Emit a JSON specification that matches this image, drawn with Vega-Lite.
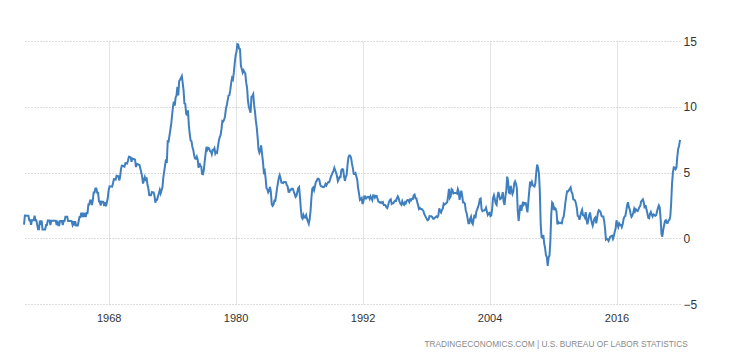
{"$schema":"https://vega.github.io/schema/vega-lite/v6.json","width":656,"height":263,"autosize":{"type":"none"},"padding":{"left":24,"top":41,"right":72,"bottom":59},"background":"white","config":{"view":{"stroke":null},"font":"Liberation Sans"},
"title":{"text":"TRADINGECONOMICS.COM  |  U.S.  BUREAU  OF  LABOR  STATISTICS","orient":"bottom","anchor":"end","fontSize":8.3,"font":"Liberation Sans","fontWeight":"normal","color":"#8a8a8a","offset":17,"dx":-9},
"data":{"values":[
{"d":"1960-01","v":1.03},{"d":"1960-02","v":1.73},{"d":"1960-03","v":1.73},{"d":"1960-04","v":1.72},{"d":"1960-05","v":1.72},{"d":"1960-06","v":1.72},{"d":"1960-07","v":1.37},{"d":"1960-08","v":1.37},{"d":"1960-09","v":1.02},{"d":"1960-10","v":1.36},{"d":"1960-11","v":1.36},{"d":"1960-12","v":1.36},
{"d":"1961-01","v":1.71},{"d":"1961-02","v":1.36},{"d":"1961-03","v":1.36},{"d":"1961-04","v":1.02},{"d":"1961-05","v":0.68},{"d":"1961-06","v":0.68},{"d":"1961-07","v":1.35},{"d":"1961-08","v":1.02},{"d":"1961-09","v":1.35},{"d":"1961-10","v":0.67},{"d":"1961-11","v":0.67},{"d":"1961-12","v":0.67},
{"d":"1962-01","v":0.67},{"d":"1962-02","v":1.01},{"d":"1962-03","v":1.01},{"d":"1962-04","v":1.35},{"d":"1962-05","v":1.35},{"d":"1962-06","v":1.35},{"d":"1962-07","v":1.01},{"d":"1962-08","v":1.34},{"d":"1962-09","v":1.34},{"d":"1962-10","v":1.34},{"d":"1962-11","v":1.34},{"d":"1962-12","v":1.34},
{"d":"1963-01","v":1.33},{"d":"1963-02","v":1.0},{"d":"1963-03","v":1.33},{"d":"1963-04","v":0.99},{"d":"1963-05","v":0.99},{"d":"1963-06","v":1.32},{"d":"1963-07","v":1.32},{"d":"1963-08","v":1.32},{"d":"1963-09","v":1.0},{"d":"1963-10","v":1.32},{"d":"1963-11","v":1.32},{"d":"1963-12","v":1.64},
{"d":"1964-01","v":1.64},{"d":"1964-02","v":1.64},{"d":"1964-03","v":1.31},{"d":"1964-04","v":1.31},{"d":"1964-05","v":1.31},{"d":"1964-06","v":1.31},{"d":"1964-07","v":1.3},{"d":"1964-08","v":1.04},{"d":"1964-09","v":1.3},{"d":"1964-10","v":0.97},{"d":"1964-11","v":1.29},{"d":"1964-12","v":0.97},
{"d":"1965-01","v":0.97},{"d":"1965-02","v":0.97},{"d":"1965-03","v":1.29},{"d":"1965-04","v":1.62},{"d":"1965-05","v":1.62},{"d":"1965-06","v":1.94},{"d":"1965-07","v":1.62},{"d":"1965-08","v":1.94},{"d":"1965-09","v":1.62},{"d":"1965-10","v":1.93},{"d":"1965-11","v":1.61},{"d":"1965-12","v":1.92},
{"d":"1966-01","v":1.92},{"d":"1966-02","v":2.56},{"d":"1966-03","v":2.56},{"d":"1966-04","v":2.87},{"d":"1966-05","v":2.87},{"d":"1966-06","v":2.53},{"d":"1966-07","v":2.85},{"d":"1966-08","v":3.48},{"d":"1966-09","v":3.48},{"d":"1966-10","v":3.79},{"d":"1966-11","v":3.79},{"d":"1966-12","v":3.46},
{"d":"1967-01","v":3.46},{"d":"1967-02","v":2.81},{"d":"1967-03","v":2.8},{"d":"1967-04","v":2.48},{"d":"1967-05","v":2.79},{"d":"1967-06","v":2.78},{"d":"1967-07","v":2.77},{"d":"1967-08","v":2.45},{"d":"1967-09","v":2.75},{"d":"1967-10","v":2.43},{"d":"1967-11","v":2.74},{"d":"1967-12","v":3.04},
{"d":"1968-01","v":3.65},{"d":"1968-02","v":3.95},{"d":"1968-03","v":3.94},{"d":"1968-04","v":3.93},{"d":"1968-05","v":3.92},{"d":"1968-06","v":4.2},{"d":"1968-07","v":4.49},{"d":"1968-08","v":4.48},{"d":"1968-09","v":4.46},{"d":"1968-10","v":4.75},{"d":"1968-11","v":4.73},{"d":"1968-12","v":4.72},
{"d":"1969-01","v":4.4},{"d":"1969-02","v":4.68},{"d":"1969-03","v":5.25},{"d":"1969-04","v":5.52},{"d":"1969-05","v":5.51},{"d":"1969-06","v":5.48},{"d":"1969-07","v":5.44},{"d":"1969-08","v":5.71},{"d":"1969-09","v":5.7},{"d":"1969-10","v":5.68},{"d":"1969-11","v":5.93},{"d":"1969-12","v":6.2},
{"d":"1970-01","v":6.18},{"d":"1970-02","v":6.15},{"d":"1970-03","v":5.82},{"d":"1970-04","v":6.06},{"d":"1970-05","v":6.04},{"d":"1970-06","v":6.01},{"d":"1970-07","v":5.98},{"d":"1970-08","v":5.41},{"d":"1970-09","v":5.66},{"d":"1970-10","v":5.63},{"d":"1970-11","v":5.6},{"d":"1970-12","v":5.57},
{"d":"1971-01","v":5.29},{"d":"1971-02","v":5.0},{"d":"1971-03","v":4.71},{"d":"1971-04","v":4.16},{"d":"1971-05","v":4.4},{"d":"1971-06","v":4.64},{"d":"1971-07","v":4.36},{"d":"1971-08","v":4.62},{"d":"1971-09","v":4.08},{"d":"1971-10","v":3.81},{"d":"1971-11","v":3.28},{"d":"1971-12","v":3.27},
{"d":"1972-01","v":3.27},{"d":"1972-02","v":3.51},{"d":"1972-03","v":3.5},{"d":"1972-04","v":3.49},{"d":"1972-05","v":3.23},{"d":"1972-06","v":2.71},{"d":"1972-07","v":2.95},{"d":"1972-08","v":2.94},{"d":"1972-09","v":3.19},{"d":"1972-10","v":3.42},{"d":"1972-11","v":3.67},{"d":"1972-12","v":3.41},
{"d":"1973-01","v":3.65},{"d":"1973-02","v":3.87},{"d":"1973-03","v":4.59},{"d":"1973-04","v":5.06},{"d":"1973-05","v":5.53},{"d":"1973-06","v":5.99},{"d":"1973-07","v":5.73},{"d":"1973-08","v":7.38},{"d":"1973-09","v":7.36},{"d":"1973-10","v":7.8},{"d":"1973-11","v":8.25},{"d":"1973-12","v":8.71},
{"d":"1974-01","v":9.39},{"d":"1974-02","v":10.02},{"d":"1974-03","v":10.39},{"d":"1974-04","v":10.09},{"d":"1974-05","v":10.71},{"d":"1974-06","v":10.86},{"d":"1974-07","v":11.51},{"d":"1974-08","v":10.86},{"d":"1974-09","v":11.95},{"d":"1974-10","v":12.06},{"d":"1974-11","v":12.2},{"d":"1974-12","v":12.34},
{"d":"1975-01","v":11.8},{"d":"1975-02","v":11.23},{"d":"1975-03","v":10.25},{"d":"1975-04","v":10.21},{"d":"1975-05","v":9.47},{"d":"1975-06","v":9.39},{"d":"1975-07","v":9.72},{"d":"1975-08","v":8.6},{"d":"1975-09","v":7.91},{"d":"1975-10","v":7.44},{"d":"1975-11","v":7.38},{"d":"1975-12","v":6.94},
{"d":"1976-01","v":6.72},{"d":"1976-02","v":6.29},{"d":"1976-03","v":6.07},{"d":"1976-04","v":6.05},{"d":"1976-05","v":6.2},{"d":"1976-06","v":5.97},{"d":"1976-07","v":5.35},{"d":"1976-08","v":5.71},{"d":"1976-09","v":5.49},{"d":"1976-10","v":5.46},{"d":"1976-11","v":4.88},{"d":"1976-12","v":4.86},
{"d":"1977-01","v":5.22},{"d":"1977-02","v":5.91},{"d":"1977-03","v":6.44},{"d":"1977-04","v":6.95},{"d":"1977-05","v":6.73},{"d":"1977-06","v":6.87},{"d":"1977-07","v":6.83},{"d":"1977-08","v":6.62},{"d":"1977-09","v":6.6},{"d":"1977-10","v":6.39},{"d":"1977-11","v":6.72},{"d":"1977-12","v":6.7},
{"d":"1978-01","v":6.84},{"d":"1978-02","v":6.43},{"d":"1978-03","v":6.55},{"d":"1978-04","v":6.5},{"d":"1978-05","v":6.97},{"d":"1978-06","v":7.41},{"d":"1978-07","v":7.7},{"d":"1978-08","v":7.84},{"d":"1978-09","v":8.31},{"d":"1978-10","v":8.93},{"d":"1978-11","v":8.89},{"d":"1978-12","v":9.02},
{"d":"1979-01","v":9.28},{"d":"1979-02","v":9.86},{"d":"1979-03","v":10.09},{"d":"1979-04","v":10.49},{"d":"1979-05","v":10.85},{"d":"1979-06","v":10.89},{"d":"1979-07","v":11.26},{"d":"1979-08","v":11.82},{"d":"1979-09","v":12.18},{"d":"1979-10","v":12.07},{"d":"1979-11","v":12.61},{"d":"1979-12","v":13.29},
{"d":"1980-01","v":13.91},{"d":"1980-02","v":14.18},{"d":"1980-03","v":14.76},{"d":"1980-04","v":14.73},{"d":"1980-05","v":14.41},{"d":"1980-06","v":14.38},{"d":"1980-07","v":13.13},{"d":"1980-08","v":12.87},{"d":"1980-09","v":12.6},{"d":"1980-10","v":12.77},{"d":"1980-11","v":12.65},{"d":"1980-12","v":12.52},
{"d":"1981-01","v":11.83},{"d":"1981-02","v":11.41},{"d":"1981-03","v":10.49},{"d":"1981-04","v":10.0},{"d":"1981-05","v":9.78},{"d":"1981-06","v":9.55},{"d":"1981-07","v":10.76},{"d":"1981-08","v":10.8},{"d":"1981-09","v":10.95},{"d":"1981-10","v":10.14},{"d":"1981-11","v":9.59},{"d":"1981-12","v":8.92},
{"d":"1982-01","v":8.39},{"d":"1982-02","v":7.62},{"d":"1982-03","v":6.78},{"d":"1982-04","v":6.51},{"d":"1982-05","v":6.68},{"d":"1982-06","v":7.06},{"d":"1982-07","v":6.44},{"d":"1982-08","v":5.85},{"d":"1982-09","v":5.04},{"d":"1982-10","v":5.14},{"d":"1982-11","v":4.59},{"d":"1982-12","v":3.83},
{"d":"1983-01","v":3.71},{"d":"1983-02","v":3.49},{"d":"1983-03","v":3.6},{"d":"1983-04","v":3.9},{"d":"1983-05","v":3.55},{"d":"1983-06","v":2.58},{"d":"1983-07","v":2.46},{"d":"1983-08","v":2.56},{"d":"1983-09","v":2.86},{"d":"1983-10","v":2.85},{"d":"1983-11","v":3.27},{"d":"1983-12","v":3.79},
{"d":"1984-01","v":4.19},{"d":"1984-02","v":4.6},{"d":"1984-03","v":4.8},{"d":"1984-04","v":4.56},{"d":"1984-05","v":4.23},{"d":"1984-06","v":4.22},{"d":"1984-07","v":4.2},{"d":"1984-08","v":4.29},{"d":"1984-09","v":4.27},{"d":"1984-10","v":4.26},{"d":"1984-11","v":4.05},{"d":"1984-12","v":3.95},
{"d":"1985-01","v":3.53},{"d":"1985-02","v":3.52},{"d":"1985-03","v":3.7},{"d":"1985-04","v":3.69},{"d":"1985-05","v":3.77},{"d":"1985-06","v":3.76},{"d":"1985-07","v":3.55},{"d":"1985-08","v":3.35},{"d":"1985-09","v":3.14},{"d":"1985-10","v":3.23},{"d":"1985-11","v":3.51},{"d":"1985-12","v":3.8},
{"d":"1986-01","v":3.89},{"d":"1986-02","v":3.11},{"d":"1986-03","v":2.26},{"d":"1986-04","v":1.59},{"d":"1986-05","v":1.49},{"d":"1986-06","v":1.77},{"d":"1986-07","v":1.58},{"d":"1986-08","v":1.57},{"d":"1986-09","v":1.75},{"d":"1986-10","v":1.47},{"d":"1986-11","v":1.28},{"d":"1986-12","v":1.1},
{"d":"1987-01","v":1.46},{"d":"1987-02","v":2.1},{"d":"1987-03","v":3.03},{"d":"1987-04","v":3.78},{"d":"1987-05","v":3.86},{"d":"1987-06","v":3.65},{"d":"1987-07","v":3.93},{"d":"1987-08","v":4.28},{"d":"1987-09","v":4.36},{"d":"1987-10","v":4.53},{"d":"1987-11","v":4.53},{"d":"1987-12","v":4.43},
{"d":"1988-01","v":4.05},{"d":"1988-02","v":3.94},{"d":"1988-03","v":3.93},{"d":"1988-04","v":3.9},{"d":"1988-05","v":3.89},{"d":"1988-06","v":3.96},{"d":"1988-07","v":4.13},{"d":"1988-08","v":4.02},{"d":"1988-09","v":4.17},{"d":"1988-10","v":4.25},{"d":"1988-11","v":4.25},{"d":"1988-12","v":4.42},
{"d":"1989-01","v":4.67},{"d":"1989-02","v":4.83},{"d":"1989-03","v":4.98},{"d":"1989-04","v":5.12},{"d":"1989-05","v":5.36},{"d":"1989-06","v":5.17},{"d":"1989-07","v":4.98},{"d":"1989-08","v":4.71},{"d":"1989-09","v":4.34},{"d":"1989-10","v":4.49},{"d":"1989-11","v":4.66},{"d":"1989-12","v":4.65},
{"d":"1990-01","v":5.2},{"d":"1990-02","v":5.26},{"d":"1990-03","v":5.23},{"d":"1990-04","v":4.71},{"d":"1990-05","v":4.36},{"d":"1990-06","v":4.67},{"d":"1990-07","v":4.82},{"d":"1990-08","v":5.62},{"d":"1990-09","v":6.16},{"d":"1990-10","v":6.29},{"d":"1990-11","v":6.27},{"d":"1990-12","v":6.11},
{"d":"1991-01","v":5.65},{"d":"1991-02","v":5.31},{"d":"1991-03","v":4.9},{"d":"1991-04","v":4.89},{"d":"1991-05","v":4.95},{"d":"1991-06","v":4.7},{"d":"1991-07","v":4.45},{"d":"1991-08","v":3.8},{"d":"1991-09","v":3.39},{"d":"1991-10","v":2.92},{"d":"1991-11","v":2.99},{"d":"1991-12","v":3.06},
{"d":"1992-01","v":2.6},{"d":"1992-02","v":2.82},{"d":"1992-03","v":3.19},{"d":"1992-04","v":3.18},{"d":"1992-05","v":3.02},{"d":"1992-06","v":3.09},{"d":"1992-07","v":3.16},{"d":"1992-08","v":3.15},{"d":"1992-09","v":2.99},{"d":"1992-10","v":3.2},{"d":"1992-11","v":3.05},{"d":"1992-12","v":2.9},
{"d":"1993-01","v":3.26},{"d":"1993-02","v":3.25},{"d":"1993-03","v":3.09},{"d":"1993-04","v":3.23},{"d":"1993-05","v":3.22},{"d":"1993-06","v":3.0},{"d":"1993-07","v":2.78},{"d":"1993-08","v":2.77},{"d":"1993-09","v":2.69},{"d":"1993-10","v":2.75},{"d":"1993-11","v":2.68},{"d":"1993-12","v":2.75},
{"d":"1994-01","v":2.52},{"d":"1994-02","v":2.52},{"d":"1994-03","v":2.51},{"d":"1994-04","v":2.36},{"d":"1994-05","v":2.29},{"d":"1994-06","v":2.49},{"d":"1994-07","v":2.77},{"d":"1994-08","v":2.9},{"d":"1994-09","v":2.96},{"d":"1994-10","v":2.61},{"d":"1994-11","v":2.67},{"d":"1994-12","v":2.67},
{"d":"1995-01","v":2.8},{"d":"1995-02","v":2.86},{"d":"1995-03","v":2.85},{"d":"1995-04","v":3.05},{"d":"1995-05","v":3.19},{"d":"1995-06","v":3.04},{"d":"1995-07","v":2.76},{"d":"1995-08","v":2.62},{"d":"1995-09","v":2.54},{"d":"1995-10","v":2.81},{"d":"1995-11","v":2.61},{"d":"1995-12","v":2.54},
{"d":"1996-01","v":2.73},{"d":"1996-02","v":2.65},{"d":"1996-03","v":2.84},{"d":"1996-04","v":2.9},{"d":"1996-05","v":2.89},{"d":"1996-06","v":2.75},{"d":"1996-07","v":2.95},{"d":"1996-08","v":2.88},{"d":"1996-09","v":3.0},{"d":"1996-10","v":2.99},{"d":"1996-11","v":3.26},{"d":"1996-12","v":3.32},
{"d":"1997-01","v":3.04},{"d":"1997-02","v":3.03},{"d":"1997-03","v":2.76},{"d":"1997-04","v":2.5},{"d":"1997-05","v":2.23},{"d":"1997-06","v":2.3},{"d":"1997-07","v":2.23},{"d":"1997-08","v":2.23},{"d":"1997-09","v":2.15},{"d":"1997-10","v":2.08},{"d":"1997-11","v":1.83},{"d":"1997-12","v":1.7},
{"d":"1998-01","v":1.57},{"d":"1998-02","v":1.44},{"d":"1998-03","v":1.37},{"d":"1998-04","v":1.44},{"d":"1998-05","v":1.69},{"d":"1998-06","v":1.68},{"d":"1998-07","v":1.68},{"d":"1998-08","v":1.62},{"d":"1998-09","v":1.49},{"d":"1998-10","v":1.49},{"d":"1998-11","v":1.55},{"d":"1998-12","v":1.61},
{"d":"1999-01","v":1.67},{"d":"1999-02","v":1.61},{"d":"1999-03","v":1.73},{"d":"1999-04","v":2.28},{"d":"1999-05","v":2.09},{"d":"1999-06","v":1.96},{"d":"1999-07","v":2.14},{"d":"1999-08","v":2.26},{"d":"1999-09","v":2.63},{"d":"1999-10","v":2.56},{"d":"1999-11","v":2.62},{"d":"1999-12","v":2.68},
{"d":"2000-01","v":2.74},{"d":"2000-02","v":3.22},{"d":"2000-03","v":3.76},{"d":"2000-04","v":3.07},{"d":"2000-05","v":3.19},{"d":"2000-06","v":3.73},{"d":"2000-07","v":3.66},{"d":"2000-08","v":3.41},{"d":"2000-09","v":3.45},{"d":"2000-10","v":3.45},{"d":"2000-11","v":3.45},{"d":"2000-12","v":3.39},
{"d":"2001-01","v":3.73},{"d":"2001-02","v":3.53},{"d":"2001-03","v":2.92},{"d":"2001-04","v":3.27},{"d":"2001-05","v":3.62},{"d":"2001-06","v":3.25},{"d":"2001-07","v":2.72},{"d":"2001-08","v":2.72},{"d":"2001-09","v":2.65},{"d":"2001-10","v":2.13},{"d":"2001-11","v":1.9},{"d":"2001-12","v":1.55},
{"d":"2002-01","v":1.14},{"d":"2002-02","v":1.14},{"d":"2002-03","v":1.48},{"d":"2002-04","v":1.64},{"d":"2002-05","v":1.18},{"d":"2002-06","v":1.07},{"d":"2002-07","v":1.46},{"d":"2002-08","v":1.8},{"d":"2002-09","v":1.51},{"d":"2002-10","v":2.03},{"d":"2002-11","v":2.2},{"d":"2002-12","v":2.38},
{"d":"2003-01","v":2.6},{"d":"2003-02","v":2.98},{"d":"2003-03","v":3.02},{"d":"2003-04","v":2.22},{"d":"2003-05","v":2.06},{"d":"2003-06","v":2.11},{"d":"2003-07","v":2.11},{"d":"2003-08","v":2.16},{"d":"2003-09","v":2.32},{"d":"2003-10","v":2.04},{"d":"2003-11","v":1.77},{"d":"2003-12","v":1.88},
{"d":"2004-01","v":1.93},{"d":"2004-02","v":1.69},{"d":"2004-03","v":1.74},{"d":"2004-04","v":2.29},{"d":"2004-05","v":3.05},{"d":"2004-06","v":3.27},{"d":"2004-07","v":2.99},{"d":"2004-08","v":2.65},{"d":"2004-09","v":2.54},{"d":"2004-10","v":3.19},{"d":"2004-11","v":3.52},{"d":"2004-12","v":3.26},
{"d":"2005-01","v":2.97},{"d":"2005-02","v":3.01},{"d":"2005-03","v":3.15},{"d":"2005-04","v":3.51},{"d":"2005-05","v":2.8},{"d":"2005-06","v":2.53},{"d":"2005-07","v":3.17},{"d":"2005-08","v":3.64},{"d":"2005-09","v":4.69},{"d":"2005-10","v":4.35},{"d":"2005-11","v":3.46},{"d":"2005-12","v":3.42},
{"d":"2006-01","v":3.99},{"d":"2006-02","v":3.6},{"d":"2006-03","v":3.36},{"d":"2006-04","v":3.55},{"d":"2006-05","v":4.17},{"d":"2006-06","v":4.32},{"d":"2006-07","v":4.15},{"d":"2006-08","v":3.82},{"d":"2006-09","v":2.06},{"d":"2006-10","v":1.31},{"d":"2006-11","v":1.97},{"d":"2006-12","v":2.54},
{"d":"2007-01","v":2.08},{"d":"2007-02","v":2.42},{"d":"2007-03","v":2.78},{"d":"2007-04","v":2.57},{"d":"2007-05","v":2.69},{"d":"2007-06","v":2.69},{"d":"2007-07","v":2.36},{"d":"2007-08","v":1.97},{"d":"2007-09","v":2.76},{"d":"2007-10","v":3.54},{"d":"2007-11","v":4.31},{"d":"2007-12","v":4.08},
{"d":"2008-01","v":4.28},{"d":"2008-02","v":4.03},{"d":"2008-03","v":3.98},{"d":"2008-04","v":3.94},{"d":"2008-05","v":4.18},{"d":"2008-06","v":5.02},{"d":"2008-07","v":5.6},{"d":"2008-08","v":5.37},{"d":"2008-09","v":4.94},{"d":"2008-10","v":3.66},{"d":"2008-11","v":1.07},{"d":"2008-12","v":0.09},
{"d":"2009-01","v":0.03},{"d":"2009-02","v":0.24},{"d":"2009-03","v":-0.38},{"d":"2009-04","v":-0.74},{"d":"2009-05","v":-1.28},{"d":"2009-06","v":-1.43},{"d":"2009-07","v":-2.1},{"d":"2009-08","v":-1.48},{"d":"2009-09","v":-1.29},{"d":"2009-10","v":-0.18},{"d":"2009-11","v":1.84},{"d":"2009-12","v":2.72},
{"d":"2010-01","v":2.63},{"d":"2010-02","v":2.14},{"d":"2010-03","v":2.31},{"d":"2010-04","v":2.24},{"d":"2010-05","v":2.02},{"d":"2010-06","v":1.05},{"d":"2010-07","v":1.24},{"d":"2010-08","v":1.15},{"d":"2010-09","v":1.14},{"d":"2010-10","v":1.17},{"d":"2010-11","v":1.14},{"d":"2010-12","v":1.5},
{"d":"2011-01","v":1.63},{"d":"2011-02","v":2.11},{"d":"2011-03","v":2.68},{"d":"2011-04","v":3.16},{"d":"2011-05","v":3.57},{"d":"2011-06","v":3.56},{"d":"2011-07","v":3.63},{"d":"2011-08","v":3.77},{"d":"2011-09","v":3.87},{"d":"2011-10","v":3.53},{"d":"2011-11","v":3.39},{"d":"2011-12","v":2.96},
{"d":"2012-01","v":2.93},{"d":"2012-02","v":2.87},{"d":"2012-03","v":2.65},{"d":"2012-04","v":2.3},{"d":"2012-05","v":1.7},{"d":"2012-06","v":1.66},{"d":"2012-07","v":1.41},{"d":"2012-08","v":1.69},{"d":"2012-09","v":1.99},{"d":"2012-10","v":2.16},{"d":"2012-11","v":1.76},{"d":"2012-12","v":1.74},
{"d":"2013-01","v":1.59},{"d":"2013-02","v":1.98},{"d":"2013-03","v":1.47},{"d":"2013-04","v":1.06},{"d":"2013-05","v":1.36},{"d":"2013-06","v":1.75},{"d":"2013-07","v":1.96},{"d":"2013-08","v":1.52},{"d":"2013-09","v":1.18},{"d":"2013-10","v":0.96},{"d":"2013-11","v":1.24},{"d":"2013-12","v":1.5},
{"d":"2014-01","v":1.58},{"d":"2014-02","v":1.13},{"d":"2014-03","v":1.51},{"d":"2014-04","v":1.95},{"d":"2014-05","v":2.13},{"d":"2014-06","v":2.07},{"d":"2014-07","v":1.99},{"d":"2014-08","v":1.7},{"d":"2014-09","v":1.66},{"d":"2014-10","v":1.66},{"d":"2014-11","v":1.32},{"d":"2014-12","v":0.76},
{"d":"2015-01","v":-0.09},{"d":"2015-02","v":-0.03},{"d":"2015-03","v":-0.07},{"d":"2015-04","v":-0.2},{"d":"2015-05","v":-0.04},{"d":"2015-06","v":0.12},{"d":"2015-07","v":0.17},{"d":"2015-08","v":0.2},{"d":"2015-09","v":-0.04},{"d":"2015-10","v":0.17},{"d":"2015-11","v":0.5},{"d":"2015-12","v":0.73},
{"d":"2016-01","v":1.37},{"d":"2016-02","v":1.02},{"d":"2016-03","v":0.85},{"d":"2016-04","v":1.13},{"d":"2016-05","v":1.02},{"d":"2016-06","v":1.01},{"d":"2016-07","v":0.84},{"d":"2016-08","v":1.06},{"d":"2016-09","v":1.46},{"d":"2016-10","v":1.64},{"d":"2016-11","v":1.69},{"d":"2016-12","v":2.07},
{"d":"2017-01","v":2.5},{"d":"2017-02","v":2.74},{"d":"2017-03","v":2.38},{"d":"2017-04","v":2.2},{"d":"2017-05","v":1.87},{"d":"2017-06","v":1.63},{"d":"2017-07","v":1.73},{"d":"2017-08","v":1.94},{"d":"2017-09","v":2.23},{"d":"2017-10","v":2.04},{"d":"2017-11","v":2.2},{"d":"2017-12","v":2.11},
{"d":"2018-01","v":2.07},{"d":"2018-02","v":2.21},{"d":"2018-03","v":2.36},{"d":"2018-04","v":2.46},{"d":"2018-05","v":2.8},{"d":"2018-06","v":2.87},{"d":"2018-07","v":2.95},{"d":"2018-08","v":2.7},{"d":"2018-09","v":2.28},{"d":"2018-10","v":2.52},{"d":"2018-11","v":2.18},{"d":"2018-12","v":1.91},
{"d":"2019-01","v":1.55},{"d":"2019-02","v":1.52},{"d":"2019-03","v":1.86},{"d":"2019-04","v":2.0},{"d":"2019-05","v":1.79},{"d":"2019-06","v":1.65},{"d":"2019-07","v":1.81},{"d":"2019-08","v":1.75},{"d":"2019-09","v":1.71},{"d":"2019-10","v":1.76},{"d":"2019-11","v":2.05},{"d":"2019-12","v":2.29},
{"d":"2020-01","v":2.49},{"d":"2020-02","v":2.33},{"d":"2020-03","v":1.54},{"d":"2020-04","v":0.33},{"d":"2020-05","v":0.12},{"d":"2020-06","v":0.65},{"d":"2020-07","v":0.99},{"d":"2020-08","v":1.31},{"d":"2020-09","v":1.37},{"d":"2020-10","v":1.18},{"d":"2020-11","v":1.17},{"d":"2020-12","v":1.36},
{"d":"2021-01","v":1.4},{"d":"2021-02","v":1.68},{"d":"2021-03","v":2.62},{"d":"2021-04","v":4.16},{"d":"2021-05","v":4.99},{"d":"2021-06","v":5.39},{"d":"2021-07","v":5.37},{"d":"2021-08","v":5.25},{"d":"2021-09","v":5.39},{"d":"2021-10","v":6.22},{"d":"2021-11","v":6.81},{"d":"2021-12","v":7.04},
{"d":"2022-01","v":7.48}
]},
"mark":{"type":"line","color":"#3f7fbf","strokeWidth":2,"interpolate":"linear"},
"encoding":{
"x":{"field":"d","type":"temporal","title":null,"scale":{"domain":[{"year":1960,"month":1,"date":1},{"year":2022,"month":1,"date":1}]},
"axis":{"values":[{"year":1968},{"year":1980},{"year":1992},{"year":2004},{"year":2016}],"format":"%Y","domain":false,"ticks":false,"labelPadding":8,"labelFontSize":11,"labelColor":"#333","grid":true,"gridColor":"#e4e4e4","gridWidth":1,"labelFlush":false}},
"y":{"field":"v","type":"quantitative","title":null,"scale":{"domain":[-5,15],"nice":false,"zero":false},
"axis":{"orient":"right","values":[-5,0,5,10,15],"domain":false,"ticks":false,"labelPadding":3,"labelAlign":"left","labelFontSize":12,"labelColor":"#333","grid":true,"gridColor":"#bbbbbb","gridDash":[1,2],"gridWidth":1}}
}
}
